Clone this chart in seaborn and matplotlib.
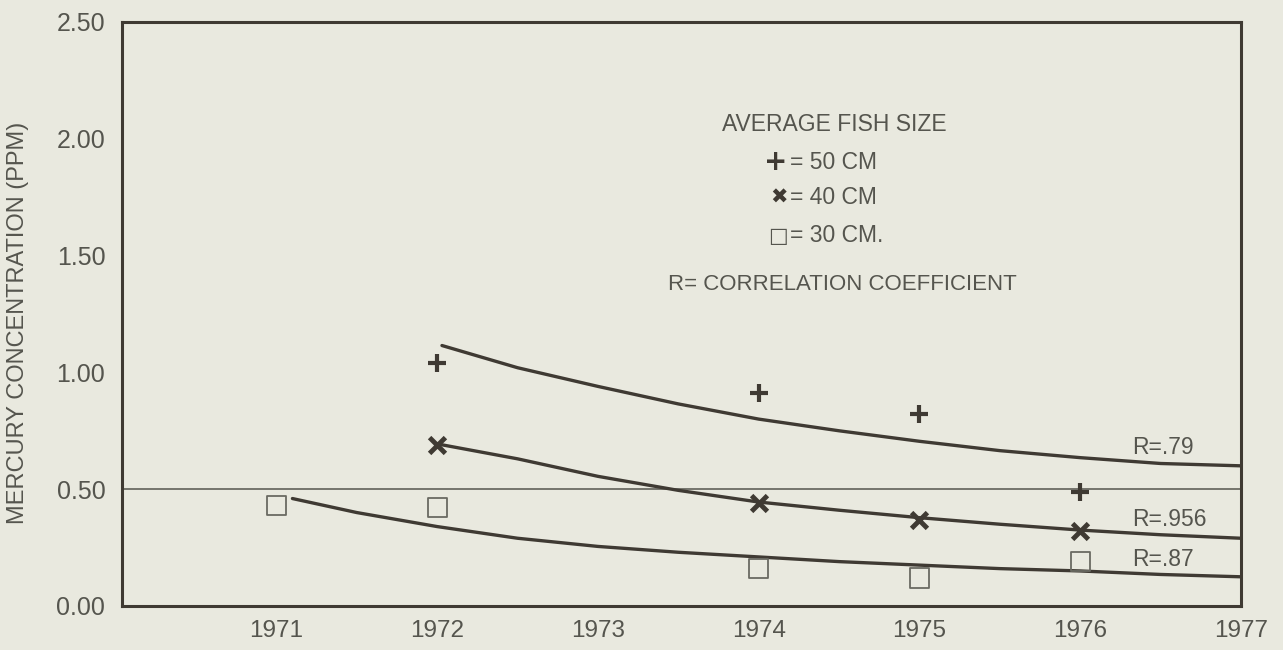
import numpy as np
import pandas as pd
import matplotlib.pyplot as plt
import seaborn as sns

# measured points (year, ppm) for each fish size
years_50 = [1972, 1974, 1975, 1976]
hg_50 = [1.04, 0.91, 0.82, 0.49]
years_40 = [1972, 1974, 1975, 1976]
hg_40 = [0.69, 0.44, 0.37, 0.32]
years_30 = [1971, 1972, 1974, 1975, 1976]
hg_30 = [0.43, 0.42, 0.16, 0.12, 0.19]

# fitted curves
curve_x_50 = [1972.03, 1972.5, 1973, 1973.5, 1974, 1974.5, 1975, 1975.5, 1976, 1976.5, 1977]
curve_y_50 = [1.115, 1.02, 0.94, 0.865, 0.80, 0.75, 0.705, 0.665, 0.635, 0.61, 0.60]
curve_x_40 = [1972.03, 1972.5, 1973, 1973.5, 1974, 1974.5, 1975, 1975.5, 1976, 1976.5, 1977]
curve_y_40 = [0.69, 0.63, 0.555, 0.495, 0.445, 0.41, 0.378, 0.35, 0.325, 0.305, 0.29]
curve_x_30 = [1971.1, 1971.5, 1972, 1972.5, 1973, 1973.5, 1974, 1974.5, 1975, 1975.5, 1976, 1976.5, 1977]
curve_y_30 = [0.46, 0.40, 0.34, 0.29, 0.255, 0.23, 0.21, 0.19, 0.175, 0.16, 0.15, 0.135, 0.125]

r_labels = ["R=.79", "R=.956", "R=.87"]
r_label_y = [0.68, 0.37, 0.20]

x_ticks = [1971, 1972, 1973, 1974, 1975, 1976, 1977]
y_ticks = [0.0, 0.5, 1.0, 1.5, 2.0, 2.5]

paper = "#e9e9df"
ink = "#3f3a33"
text_col = "#55554e"

sns.set_style("white")
plt.rcParams['font.family'] = ['Liberation Sans', 'DejaVu Sans']

fig = plt.figure(figsize=(12.83, 6.5), dpi=100, facecolor=paper)
ax = fig.add_axes([0.0951, 0.0677, 0.8722, 0.8985])
ax.set_facecolor(paper)

# reference line at 0.50
ax.axhline(0.5, color=text_col, lw=1.1, zorder=1)

# curves
for cx, cy in [(curve_x_50, curve_y_50), (curve_x_40, curve_y_40), (curve_x_30, curve_y_30)]:
    sns.lineplot(x=cx, y=cy, ax=ax, color=ink, lw=2.4, zorder=2)

# points
sns.scatterplot(x=years_50, y=hg_50, ax=ax, marker='+', s=170, linewidth=3, color=ink, zorder=3)
sns.scatterplot(x=years_40, y=hg_40, ax=ax, marker='x', s=130, linewidth=3.5, color=ink, zorder=3)
sns.scatterplot(x=years_30, y=hg_30, ax=ax, marker='s', s=190, facecolor='none',
                edgecolor='#6a6a62', linewidth=1.3, zorder=3)

# correlation labels
for lab, ly in zip(r_labels, r_label_y):
    ax.text(1976.32, ly, lab, fontsize=16.5, color=text_col, va='center', ha='left')

# legend written as text block
ax.text(0.536, 0.825, "AVERAGE FISH SIZE", transform=ax.transAxes, fontsize=16.5,
        color=text_col, va='center')
leg_rows = [("+", "= 50 CM", 0.760), ("\u2716", "= 40 CM", 0.700), ("\u25a1", "= 30 CM.", 0.634)]
for sym, lab, yy in leg_rows:
    ax.text(0.595, yy, sym, transform=ax.transAxes, fontsize=20 if sym == "+" else 15,
            fontweight='bold', color=text_col if sym == "\u25a1" else ink, va='center', ha='right',
            family=['DejaVu Sans'])
    ax.text(0.597, yy, lab, transform=ax.transAxes, fontsize=16.5, color=text_col,
            va='center', ha='left')
ax.text(0.488, 0.55, "R= CORRELATION COEFFICIENT", transform=ax.transAxes, fontsize=16,
        color=text_col, va='center')

ax.set_xlim(1970.04, 1977)
ax.set_ylim(0, 2.5)
ax.set_xticks(x_ticks)
ax.set_yticks(y_ticks)
ax.set_yticklabels([f"{v:.2f}" for v in y_ticks], fontsize=18, color=text_col)
ax.set_xticklabels([str(v) for v in x_ticks], fontsize=17.5, color=text_col)
ax.tick_params(axis='y', direction='in', length=8, width=1.5, color=ink, pad=12)
ax.tick_params(axis='x', direction='in', length=10, width=1.5, color=ink, pad=10)
ax.set_xlabel("")
ax.set_ylabel("")
for sp in ax.spines.values():
    sp.set_color(ink)
    sp.set_linewidth(2.2)
    sp.set_visible(True)

fig.text(0.014, 0.503, "MERCURY CONCENTRATION (PPM)", rotation=90, fontsize=17,
         color=text_col, va='center', ha='center')

fig.savefig("out.png", dpi=100, facecolor=paper)
